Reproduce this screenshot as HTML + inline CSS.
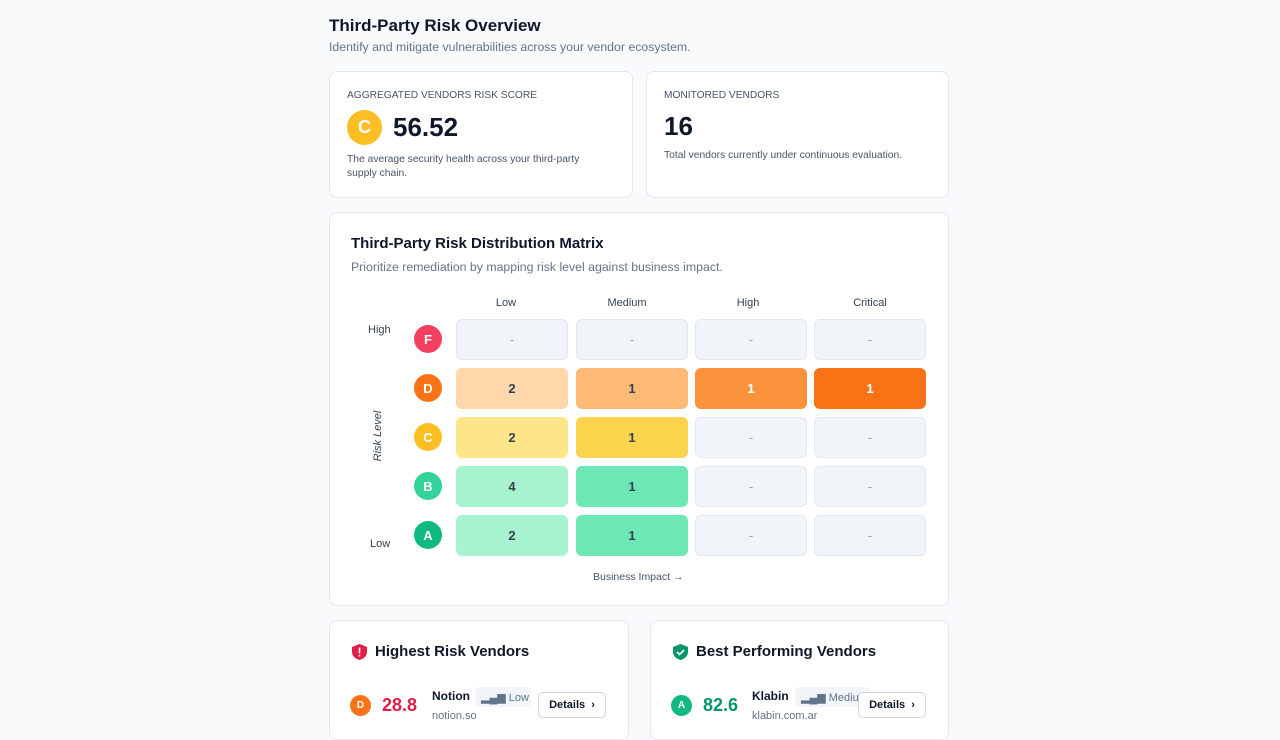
<!DOCTYPE html>
<html><head><meta charset="utf-8"><style>
*{box-sizing:border-box;margin:0;padding:0}
body{width:1280px;height:720px;overflow:hidden;background:#f8fafc;font-family:"Liberation Sans",sans-serif;color:#0f172a;position:relative}
.a{position:absolute}
.card{position:absolute;background:#fff;border:1px solid #e2e8f0;border-radius:8px}
.circ{position:absolute;border-radius:50%;color:#fff;font-weight:bold;display:flex;align-items:center;justify-content:center}
.cell{position:absolute;width:112px;height:41px;border-radius:6px;display:flex;align-items:center;justify-content:center;font-size:13px;font-weight:bold;color:#334155}
.e{background:#f1f5f9;border:1px solid #e2e8f0;color:#94a3b8;font-weight:normal}
.col{position:absolute;top:297px;width:112px;text-align:center;font-size:11px;color:#334155}
.btn{position:absolute;border:1px solid #cbd5e1;border-radius:5px;background:#fff;font-size:11px;font-weight:bold;display:flex;align-items:center;justify-content:center}
.badge{position:absolute;background:#f1f5f9;border-radius:4px;font-size:11px;color:#64748b;display:flex;align-items:center;padding-left:6px;overflow:hidden;white-space:nowrap}
</style></head><body>
<div class="a" style="left:329px;top:16px;font-size:17px;font-weight:bold">Third-Party Risk Overview</div>
<div class="a" style="left:329px;top:40px;font-size:12.3px;color:#64748b">Identify and mitigate vulnerabilities across your vendor ecosystem.</div>

<div class="card" style="left:329px;top:71px;width:304px;height:127px"></div>
<div class="a" style="left:347px;top:90px;font-size:10.2px;color:#475569">AGGREGATED VENDORS RISK SCORE</div>
<div class="circ" style="left:347px;top:110px;width:35px;height:35px;background:#fbbf24;font-size:18px">C</div>
<div class="a" style="left:393px;top:112px;font-size:26px;font-weight:bold">56.52</div>
<div class="a" style="left:347px;top:153px;font-size:10.3px;color:#475569;line-height:14px;width:250px">The average security health across your third-party supply chain.</div>

<div class="card" style="left:646px;top:71px;width:303px;height:127px"></div>
<div class="a" style="left:664px;top:90px;font-size:10.2px;color:#475569">MONITORED VENDORS</div>
<div class="a" style="left:664px;top:111px;font-size:26px;font-weight:bold">16</div>
<div class="a" style="left:664px;top:150px;font-size:10.3px;color:#475569">Total vendors currently under continuous evaluation.</div>

<div class="card" style="left:329px;top:212px;width:620px;height:394px"></div>
<div class="a" style="left:351px;top:235px;font-size:15px;font-weight:bold">Third-Party Risk Distribution Matrix</div>
<div class="a" style="left:351px;top:260px;font-size:12.3px;color:#64748b">Prioritize remediation by mapping risk level against business impact.</div>
<div class="col" style="left:450px">Low</div><div class="col" style="left:571px">Medium</div><div class="col" style="left:692px">High</div><div class="col" style="left:814px">Critical</div>
<div class="a" style="left:368px;top:324px;font-size:11px;color:#334155">High</div>
<div class="a" style="left:370px;top:538px;font-size:11px;color:#334155">Low</div>
<div class="a" style="left:352px;top:430px;font-size:11px;font-style:italic;color:#334155;transform:rotate(-90deg);width:52px;text-align:center">Risk Level</div>
<div class="circ" style="left:414px;top:325px;width:28px;height:28px;background:#f43f5e;font-size:13px">F</div>
<div class="circ" style="left:414px;top:374px;width:28px;height:28px;background:#f97316;font-size:13px">D</div>
<div class="circ" style="left:414px;top:423px;width:28px;height:28px;background:#fbbf24;font-size:13px">C</div>
<div class="circ" style="left:414px;top:472px;width:28px;height:28px;background:#34d399;font-size:13px">B</div>
<div class="circ" style="left:414px;top:521px;width:28px;height:28px;background:#10b981;font-size:13px">A</div>

<div class="cell e" style="left:456px;top:319px">-</div><div class="cell e" style="left:576px;top:319px">-</div><div class="cell e" style="left:695px;top:319px">-</div><div class="cell e" style="left:814px;top:319px">-</div>
<div class="cell" style="left:456px;top:368px;background:#fed7aa">2</div><div class="cell" style="left:576px;top:368px;background:#fdba74">1</div><div class="cell" style="left:695px;top:368px;background:#fb923c;color:#fff">1</div><div class="cell" style="left:814px;top:368px;background:#f97316;color:#fff">1</div>
<div class="cell" style="left:456px;top:417px;background:#fde68a">2</div><div class="cell" style="left:576px;top:417px;background:#fcd34d">1</div><div class="cell e" style="left:695px;top:417px">-</div><div class="cell e" style="left:814px;top:417px">-</div>
<div class="cell" style="left:456px;top:466px;background:#a7f3d0">4</div><div class="cell" style="left:576px;top:466px;background:#6ee7b7">1</div><div class="cell e" style="left:695px;top:466px">-</div><div class="cell e" style="left:814px;top:466px">-</div>
<div class="cell" style="left:456px;top:515px;background:#a7f3d0">2</div><div class="cell" style="left:576px;top:515px;background:#6ee7b7">1</div><div class="cell e" style="left:695px;top:515px">-</div><div class="cell e" style="left:814px;top:515px">-</div>
<div class="a" style="left:593px;top:571px;font-size:10.5px;color:#475569">Business Impact →</div>

<div class="card" style="left:329px;top:620px;width:300px;height:120px"></div>
<svg class="a" style="left:352px;top:644px" width="15" height="16" viewBox="0 0 15 16"><path d="M7.5 0L15 3v5c0 4-3.5 7-7.5 8C3.5 15 0 12 0 8V3z" fill="#e11d48"/><rect x="6.7" y="3.5" width="1.6" height="6" fill="#fff"/><rect x="6.7" y="11" width="1.6" height="1.6" fill="#fff"/></svg>
<div class="a" style="left:375px;top:643px;font-size:15px;font-weight:bold">Highest Risk Vendors</div>
<div class="circ" style="left:350px;top:695px;width:21px;height:21px;background:#f97316;font-size:10px">D</div>
<div class="a" style="left:382px;top:695px;font-size:18px;font-weight:bold;color:#e11d48">28.8</div>
<div class="a" style="left:432px;top:689px;font-size:12px;font-weight:bold">Notion</div>
<div class="a" style="left:432px;top:710px;font-size:11px;color:#64748b">notion.so</div>
<div class="badge" style="left:475px;top:687px;width:56px;height:20px">▂▄▆&nbsp;Low</div>
<div class="btn" style="left:538px;top:692px;width:68px;height:26px">Details &nbsp;›</div>

<div class="card" style="left:650px;top:620px;width:299px;height:120px"></div>
<svg class="a" style="left:673px;top:644px" width="15" height="16" viewBox="0 0 15 16"><path d="M7.5 0L15 3v5c0 4-3.5 7-7.5 8C3.5 15 0 12 0 8V3z" fill="#059669"/><path d="M4 8l2.5 2.5L11 6" stroke="#fff" stroke-width="1.8" fill="none"/></svg>
<div class="a" style="left:696px;top:643px;font-size:15px;font-weight:bold">Best Performing Vendors</div>
<div class="circ" style="left:671px;top:695px;width:21px;height:21px;background:#10b981;font-size:10px">A</div>
<div class="a" style="left:703px;top:695px;font-size:18px;font-weight:bold;color:#059669">82.6</div>
<div class="a" style="left:752px;top:689px;font-size:12px;font-weight:bold">Klabin</div>
<div class="a" style="left:752px;top:710px;font-size:11px;color:#64748b">klabin.com.ar</div>
<div class="badge" style="left:795px;top:687px;width:75px;height:20px">▂▄▆&nbsp;Medium</div>
<div class="btn" style="left:858px;top:692px;width:68px;height:26px">Details &nbsp;›</div>
</body></html>
